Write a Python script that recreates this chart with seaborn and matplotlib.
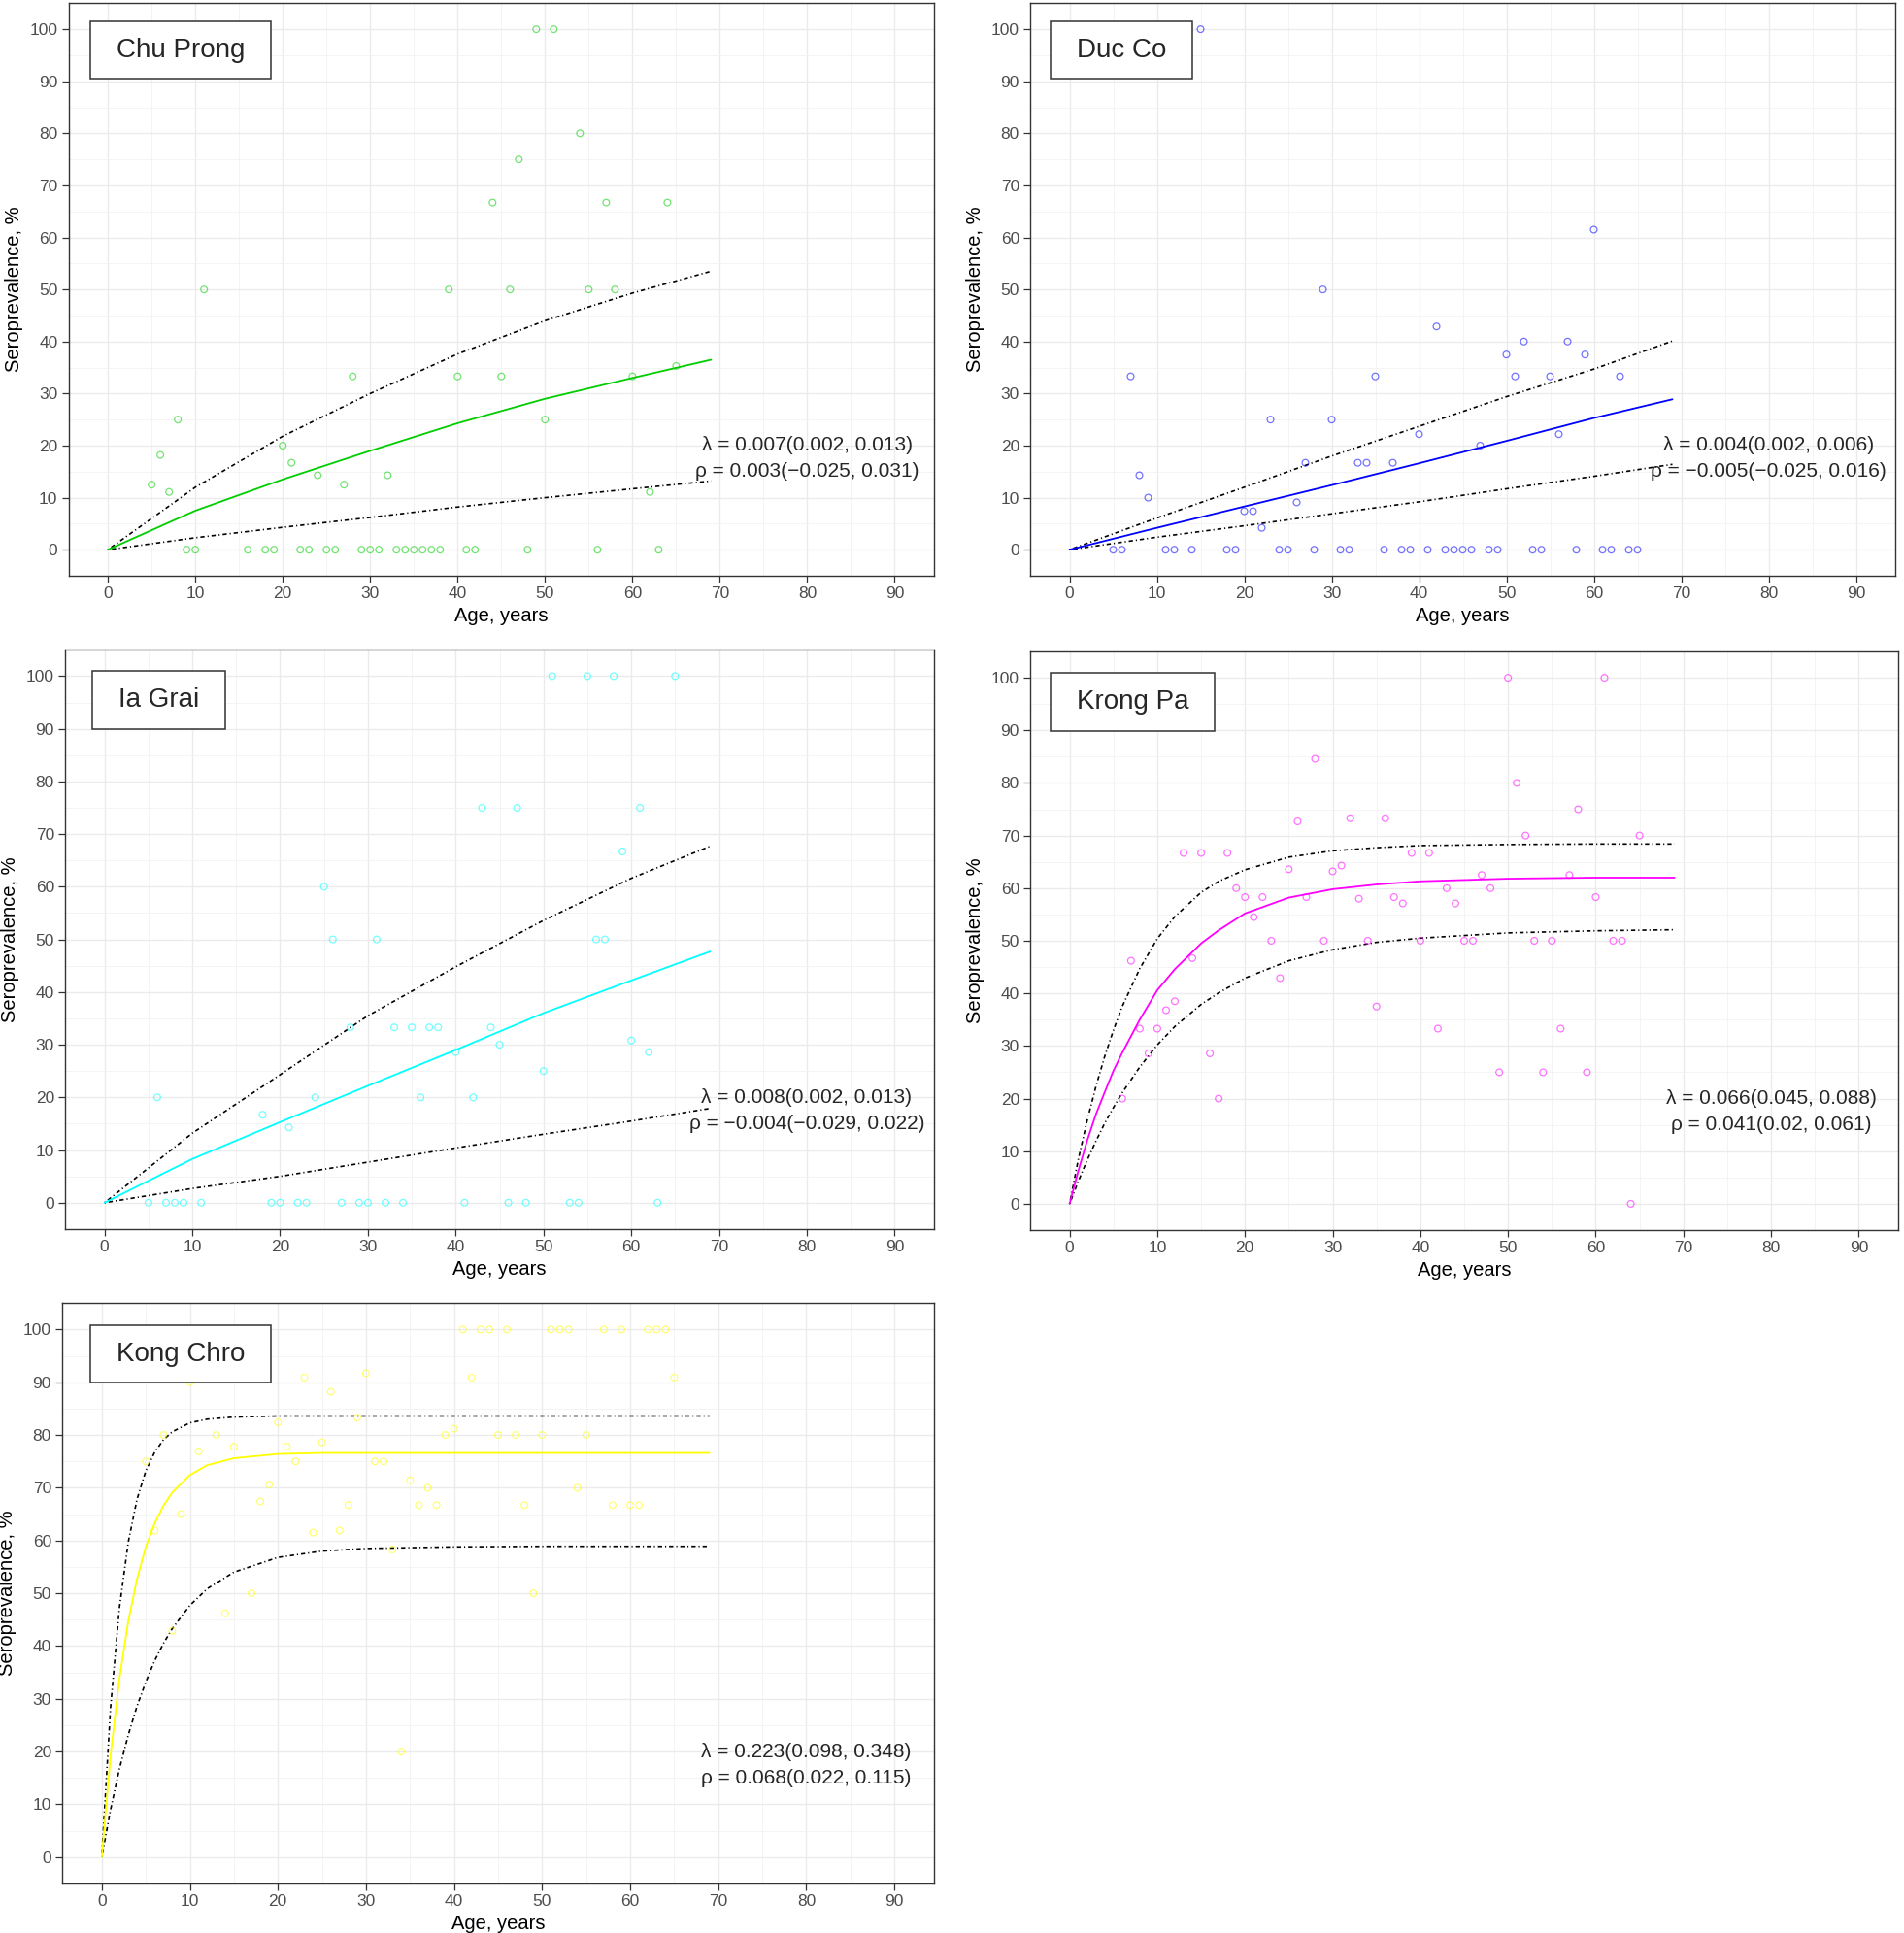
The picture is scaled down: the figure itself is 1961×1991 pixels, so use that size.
import numpy as np
import pandas as pd
import matplotlib
matplotlib.use("Agg")
import matplotlib.pyplot as plt
import seaborn as sns
from matplotlib.ticker import MultipleLocator

# ---------------- data ----------------
names = ["Chu Prong", "Duc Co", "Ia Grai", "Krong Pa", "Kong Chro"]
colors = ["#00CD00", "#0000FF", "#00FFFF", "#FF00FF", "#FFFF00"]

cp_age = [5, 6, 7, 8, 9, 10, 11, 16, 18, 19, 20, 21, 22, 23, 24, 25, 26, 27, 28, 29, 30, 31, 32,
          33, 34, 35, 36, 37, 38, 39, 40, 41, 42, 44, 45, 46, 47, 48, 49, 50, 51, 54, 55, 56,
          57, 58, 60, 62, 63, 64, 65]
cp_sero = [12.5, 18.2, 11.1, 25, 0, 0, 50, 0, 0, 0, 20, 16.7, 0, 0, 14.3, 0, 0, 12.5, 33.3, 0, 0, 0, 14.3,
           0, 0, 0, 0, 0, 0, 50, 33.3, 0, 0, 66.7, 33.3, 50, 75, 0, 100, 25, 100, 80, 50, 0,
           66.7, 50, 33.3, 11.1, 0, 66.7, 35.3]

dc_age = [5, 6, 7, 8, 9, 11, 12, 14, 15, 18, 19, 20, 21, 22, 23, 24, 25, 26, 27, 28, 29, 30, 31, 32,
          33, 34, 35, 36, 37, 38, 39, 40, 41, 42, 43, 44, 45, 46, 47, 48, 49, 50, 51, 52, 53, 54,
          55, 56, 57, 58, 59, 60, 61, 62, 63, 64, 65]
dc_sero = [0, 0, 33.3, 14.3, 10, 0, 0, 0, 100, 0, 0, 7.4, 7.4, 4.2, 25, 0, 0, 9.1, 16.7, 0, 50, 25, 0, 0,
           16.7, 16.7, 33.3, 0, 16.7, 0, 0, 22.2, 0, 42.9, 0, 0, 0, 0, 20, 0, 0, 37.5, 33.3, 40, 0, 0,
           33.3, 22.2, 40, 0, 37.5, 61.5, 0, 0, 33.3, 0, 0]

ig_age = [5, 6, 7, 8, 9, 11, 18, 19, 20, 21, 22, 23, 24, 25, 26, 27, 28, 29, 30, 31, 32, 33, 34, 35,
          36, 37, 38, 40, 41, 42, 43, 44, 45, 46, 47, 48, 50, 51, 53, 54, 55, 56, 57, 58, 59, 60,
          61, 62, 63, 65]
ig_sero = [0, 20, 0, 0, 0, 0, 16.7, 0, 0, 14.3, 0, 0, 20, 60, 50, 0, 33.3, 0, 0, 50, 0, 33.3, 0, 33.3,
           20, 33.3, 33.3, 28.6, 0, 20, 75, 33.3, 30, 0, 75, 0, 25, 100, 0, 0, 100, 50, 50, 100, 66.7, 30.8,
           75, 28.6, 0, 100]

kp_age = [6, 7, 8, 9, 10, 11, 12, 13, 14, 15, 16, 17, 18, 19, 20, 21, 22, 23, 24, 25, 26, 27, 28, 29,
          30, 31, 32, 33, 34, 35, 36, 37, 38, 39, 40, 41, 42, 43, 44, 45, 46, 47, 48, 49, 50, 51,
          52, 53, 54, 55, 56, 57, 58, 59, 60, 61, 62, 63, 64, 65]
kp_sero = [20, 46.2, 33.3, 28.6, 33.3, 36.8, 38.5, 66.7, 46.7, 66.7, 28.6, 20, 66.7, 60, 58.3, 54.5, 58.3,
           50, 42.9, 63.6, 72.7, 58.3, 84.6, 50, 63.2, 64.3, 73.3, 58, 50, 37.5, 73.3, 58.3, 57.1,
           66.7, 50, 66.7, 33.3, 60, 57.1, 50, 50, 62.5, 60, 25, 100, 80, 70, 50, 25, 50, 33.3,
           62.5, 75, 25, 58.3, 100, 50, 50, 0, 70]

kc_age = [5, 6, 7, 8, 9, 10, 11, 13, 14, 15, 17, 18, 19, 20, 21, 22, 23, 24, 25, 26, 27, 28, 29, 30,
          31, 32, 33, 34, 35, 36, 37, 38, 39, 40, 41, 42, 43, 44, 45, 46, 47, 48, 49, 50, 51, 52,
          53, 54, 55, 57, 58, 59, 60, 61, 62, 63, 64, 65]
kc_sero = [75, 61.9, 80, 42.9, 65, 90, 76.9, 80, 46.2, 77.8, 50, 67.4, 70.6, 82.4, 77.8, 75, 90.9, 61.5,
           78.6, 88.2, 61.9, 66.7, 83.3, 91.7, 75, 75, 58.3, 20, 71.4, 66.7, 70, 66.7, 80, 81.2, 100,
           90.9, 100, 100, 80, 100, 80, 66.7, 50, 80, 100, 100, 100, 70, 80, 100, 66.7, 100, 66.7,
           66.7, 100, 100, 100, 90.9]

# fitted curves
lin_age = [0, 10, 20, 30, 40, 50, 60, 69]
cp_fit = [0, 7.5, 13.5, 19.0, 24.3, 29.0, 33.0, 36.5]
cp_hi = [0, 12.0, 21.8, 30.0, 37.6, 44.0, 49.3, 53.5]
cp_lo = [0, 2.3, 4.3, 6.2, 8.2, 10.0, 11.7, 13.2]

dc_fit = [0, 4.2, 8.3, 12.4, 16.6, 20.9, 25.3, 28.9]
dc_hi = [0, 6.1, 12.0, 18.0, 23.7, 29.4, 34.7, 40.1]
dc_lo = [0, 2.4, 4.6, 6.9, 9.2, 11.7, 14.1, 16.4]

ig_fit = [0, 8.3, 15.3, 22.2, 29.0, 36.0, 42.2, 47.7]
ig_hi = [0, 13.2, 24.3, 35.5, 44.8, 53.6, 61.6, 67.7]
ig_lo = [0, 2.7, 5.0, 7.7, 10.4, 13.0, 15.5, 17.9]

kp_curve_age = [0, 1, 2, 3, 4, 5, 6, 8, 10, 12, 15, 17, 20, 25, 30, 35, 40, 50, 60, 69]
kp_fit = [0, 6.3, 12.0, 17.0, 21.2, 25.3, 28.7, 35.0, 40.6, 44.6, 49.5, 52.0, 55.2, 58.2, 59.8, 60.7,
          61.3, 61.8, 62.0, 62.0]
kp_hi = [0, 8.5, 15.8, 22.3, 28.0, 33.0, 37.5, 44.7, 50.4, 54.6, 59.2, 61.3, 63.5, 65.9, 67.1, 67.7,
         68.1, 68.3, 68.4, 68.4]
kp_lo = [0, 4.3, 8.3, 11.9, 15.3, 18.3, 21.1, 26.0, 30.2, 33.7, 37.9, 40.1, 42.9, 46.2, 48.3, 49.7,
         50.5, 51.5, 51.9, 52.1]

kc_curve_age = [0, 1, 2, 3, 4, 5, 6, 7, 8, 10, 12, 15, 20, 25, 30, 40, 50, 60, 69]
kc_fit = [0, 19.3, 33.8, 44.6, 52.7, 58.8, 63.2, 66.6, 69.1, 72.4, 74.3, 75.6, 76.4, 76.6, 76.6, 76.6,
          76.6, 76.6, 76.6]
kc_hi = [0, 28.4, 47.2, 59.6, 67.8, 73.2, 76.7, 79.1, 80.6, 82.3, 83.0, 83.4, 83.6, 83.6, 83.6, 83.6,
         83.6, 83.6, 83.6]
kc_lo = [0, 9.0, 16.7, 23.1, 28.6, 33.2, 37.2, 40.5, 43.3, 47.7, 50.9, 54.0, 56.8, 58.0, 58.5, 58.8,
         58.9, 58.9, 58.9]

lam_text = ["0.007(0.002, 0.013)", "0.004(0.002, 0.006)", "0.008(0.002, 0.013)",
            "0.066(0.045, 0.088)", "0.223(0.098, 0.348)"]
rho_text = ["0.003(\u22120.025, 0.031)", "\u22120.005(\u22120.025, 0.016)", "\u22120.004(\u22120.029, 0.022)",
            "0.041(0.02, 0.061)", "0.068(0.022, 0.115)"]

points = [(cp_age, cp_sero), (dc_age, dc_sero), (ig_age, ig_sero), (kp_age, kp_sero), (kc_age, kc_sero)]
curves = [(lin_age, cp_fit, cp_hi, cp_lo), (lin_age, dc_fit, dc_hi, dc_lo), (lin_age, ig_fit, ig_hi, ig_lo),
          (kp_curve_age, kp_fit, kp_hi, kp_lo), (kc_curve_age, kc_fit, kc_hi, kc_lo)]

# ---------------- style ----------------
sns.set_style("white")
plt.rcParams['font.family'] = ['Liberation Sans', 'DejaVu Sans']

W, H = 1961, 1991
fig = plt.figure(figsize=(W / 100, H / 100), dpi=100)

# panel rectangles in pixels: left, top, right, bottom
rects = [(70.6, 3.3, 962, 593), (1061, 3.3, 1952, 593), (67, 669.3, 962, 1265.9),
         (1061, 671, 1955, 1267), (64, 1342.2, 962, 1940)]
label_y = [0.918, 0.918, 0.913, 0.913, 0.9125]
label_left_px = [120, 1109, 122, 1109, 120]

dash = (0, (0.7, 1.8, 2.6, 1.8))

for i, name in enumerate(names):
    l, t, r, b = rects[i]
    ax = fig.add_axes([l / W, 1 - b / H, (r - l) / W, (b - t) / H])
    ax.set_facecolor("white")
    col = colors[i]
    ages, sero = points[i]
    df = pd.DataFrame({"age": ages, "sero": sero})
    cage, fit, hi, lo = curves[i]
    cdf = pd.DataFrame({"age": cage, "fit": fit, "hi": hi, "lo": lo})

    sns.lineplot(data=cdf, x="age", y="hi", ax=ax, color="black", linewidth=1.2,
                 linestyle=dash, estimator=None, sort=False, zorder=3)
    sns.lineplot(data=cdf, x="age", y="lo", ax=ax, color="black", linewidth=1.2,
                 linestyle=dash, estimator=None, sort=False, zorder=3)
    sns.lineplot(data=cdf, x="age", y="fit", ax=ax, color=col, linewidth=1.3,
                 estimator=None, sort=False, zorder=4)
    sns.scatterplot(data=df, x="age", y="sero", ax=ax, marker="o", s=24,
                    facecolor="none", edgecolor=col, linewidth=0.9, alpha=0.55, zorder=5)

    ax.set_xlim(-4.5, 94.5)
    ax.set_ylim(-5, 105)
    ax.xaxis.set_major_locator(MultipleLocator(10))
    ax.xaxis.set_minor_locator(MultipleLocator(5))
    ax.yaxis.set_major_locator(MultipleLocator(10))
    ax.yaxis.set_minor_locator(MultipleLocator(5))
    ax.grid(which="major", color="#EBEBEB", linewidth=1.0, zorder=0)
    ax.grid(which="minor", color="#F2F2F2", linewidth=0.6, zorder=0)
    ax.set_axisbelow(True)
    for sp in ax.spines.values():
        sp.set_color("#333333")
        sp.set_linewidth(1.0)
        sp.set_visible(True)
    ax.tick_params(which="major", length=5, width=0.9, color="#333333",
                   labelsize=12.5, labelcolor="#4D4D4D", pad=3, left=True, bottom=True)
    ax.tick_params(which="minor", length=0)
    ax.set_xlabel("Age, years", fontsize=14.5, color="black", labelpad=4)
    ax.set_ylabel("Seroprevalence, %", fontsize=14.5, color="black", labelpad=5)

    lx = (label_left_px[i] - l) / (r - l)
    ax.text(lx, label_y[i], name, transform=ax.transAxes, fontsize=20, ha="left", va="center",
            zorder=10,
            bbox=dict(boxstyle="square,pad=0.97", mutation_aspect=0.62, facecolor="white",
                      edgecolor="#333333", linewidth=1.1))

    ax.text(80, 20, "\u03bb = " + lam_text[i], fontsize=15, ha="center", va="center", zorder=10)
    ax.text(80, 15, "\u03c1 = " + rho_text[i], fontsize=15, ha="center", va="center", zorder=10)

fig.savefig("out.png", dpi=100, facecolor="white")
